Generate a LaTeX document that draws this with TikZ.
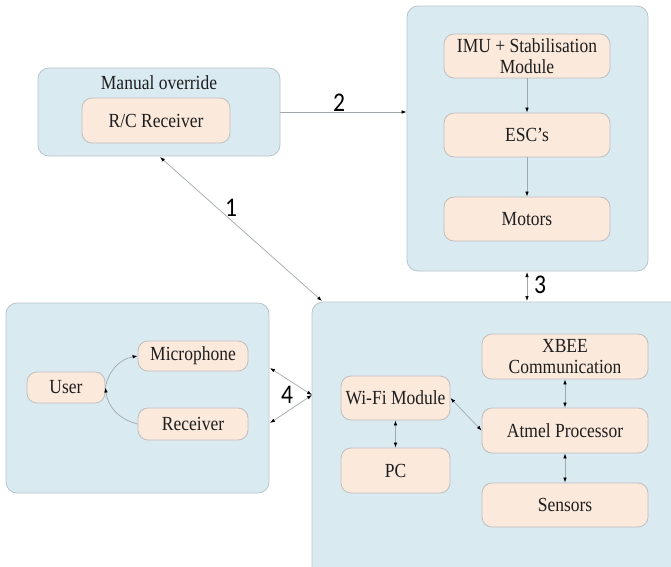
\documentclass[tikz,border=0pt]{standalone}
\usepackage{fontspec}
\setmainfont{Liberation Serif}[FakeStretch=0.875]
\newfontfamily\numfont{Carlito}[FakeStretch=0.875]
\usetikzlibrary{arrows.meta}
\definecolor{outerfill}{RGB}{218,234,241}
\definecolor{outerline}{RGB}{184,196,204}
\definecolor{innerfill}{RGB}{251,233,220}
\definecolor{innerline}{RGB}{190,190,190}
\definecolor{wire}{RGB}{160,168,172}
\definecolor{txt}{RGB}{30,30,30}
\tikzset{
  outerbox/.style={draw=outerline, fill=outerfill, rounded corners=11pt, line width=0.8pt, inner sep=0pt},
  innerbox/.style={draw=innerline, fill=innerfill, rounded corners=10pt, line width=0.8pt, inner sep=0pt,
    align=center, text=txt, font=\fontsize{20}{21}\selectfont},
  lbl/.style={text=txt, font=\fontsize{20}{21}\selectfont, inner sep=0pt},
  num/.style={text=black, font=\numfont\fontsize{27}{27}\selectfont, inner sep=0pt},
  onearrow/.style={draw=wire, line width=0.7pt, -{Latex[length=5pt,width=3.5pt,color=black]}},
  twoarrow/.style={draw=wire, line width=0.7pt, {Latex[length=5pt,width=3.5pt,color=black]}-{Latex[length=5pt,width=3.5pt,color=black]}}
}
\begin{document}
\begin{tikzpicture}[x=1pt,y=-1pt]
\useasboundingbox (0,0) rectangle (671,566);
\clip (0,0) rectangle (671,566);
\fill[white] (0,0) rectangle (671,566);
% outer boxes
\node[outerbox, minimum width=242pt, minimum height=88pt] (manual) at (159,112) {};
\node[outerbox, minimum width=241pt, minimum height=265pt] (flight) at (527.5,138.5) {};
\node[outerbox, minimum width=263pt, minimum height=190pt] (voice) at (137.5,398) {};
\node[outerbox, minimum width=400pt, minimum height=300pt] (ground) at (512,452) {};
% top-left
\node[lbl] (mtitle) at (159,83) {Manual override};
\node[innerbox, minimum width=148pt, minimum height=45pt] (rc) at (156,120.5) {R/C Receiver};
% top-right
\node[innerbox, minimum width=166pt, minimum height=44pt] (imu) at (527,56) {IMU + Stabilisation\\Module};
\node[innerbox, minimum width=166pt, minimum height=44pt] (esc) at (527,135) {ESC’s};
\node[innerbox, minimum width=166pt, minimum height=44pt] (motors) at (527,219) {Motors};
% bottom-left
\node[innerbox, minimum width=78pt, minimum height=31pt] (user) at (66,387.5) {User};
\node[innerbox, minimum width=110pt, minimum height=30pt] (mic) at (193,356) {Microphone};
\node[innerbox, minimum width=110pt, minimum height=32pt] (recv) at (193,424) {Receiver};
% bottom-right
\node[innerbox, minimum width=109pt, minimum height=44pt] (wifi) at (395.5,398) {Wi-Fi Module};
\node[innerbox, minimum width=109pt, minimum height=45pt] (pc) at (395.5,470.5) {PC};
\node[innerbox, minimum width=166pt, minimum height=45pt] (xbee) at (565,356.5) {XBEE\\Communication};
\node[innerbox, minimum width=166pt, minimum height=45pt] (atmel) at (565,430.5) {Atmel Processor};
\node[innerbox, minimum width=166pt, minimum height=44pt] (sensors) at (565,505) {Sensors};
% connector end points
\coordinate (m1) at (160,157);
\coordinate (g1) at (322,301);
\coordinate (f3) at (527,272);
\coordinate (g3) at (527,301);
\coordinate (v4a) at (270,368);
\coordinate (v4b) at (270,423);
\coordinate (g4) at (312,395);
% connectors
\draw[onearrow] (manual.east) -- (manual.east -| flight.west);
\draw[twoarrow] (m1) -- (g1);
\draw[twoarrow] (f3) -- (g3);
\draw[twoarrow] (v4a) -- (g4);
\draw[twoarrow] (v4b) -- (g4);
\draw[onearrow] (imu) -- (esc);
\draw[onearrow] (esc) -- (motors);
\draw[onearrow] (user.east) to[bend left=35] (mic.west);
\draw[onearrow] (recv.west) to[bend left=35] (user.east);
\draw[twoarrow] (wifi.east) -- (atmel.west);
\draw[twoarrow] (wifi) -- (pc);
\draw[twoarrow] (xbee) -- (atmel);
\draw[twoarrow] (atmel) -- (sensors);
% numbers
\node[num] (n1) at (231,208) {1};
\node[num] (n2) at (339,103) {2};
\node[num] (n3) at (540,285) {3};
\node[num] (n4) at (287,395) {4};
\end{tikzpicture}
\end{document}
